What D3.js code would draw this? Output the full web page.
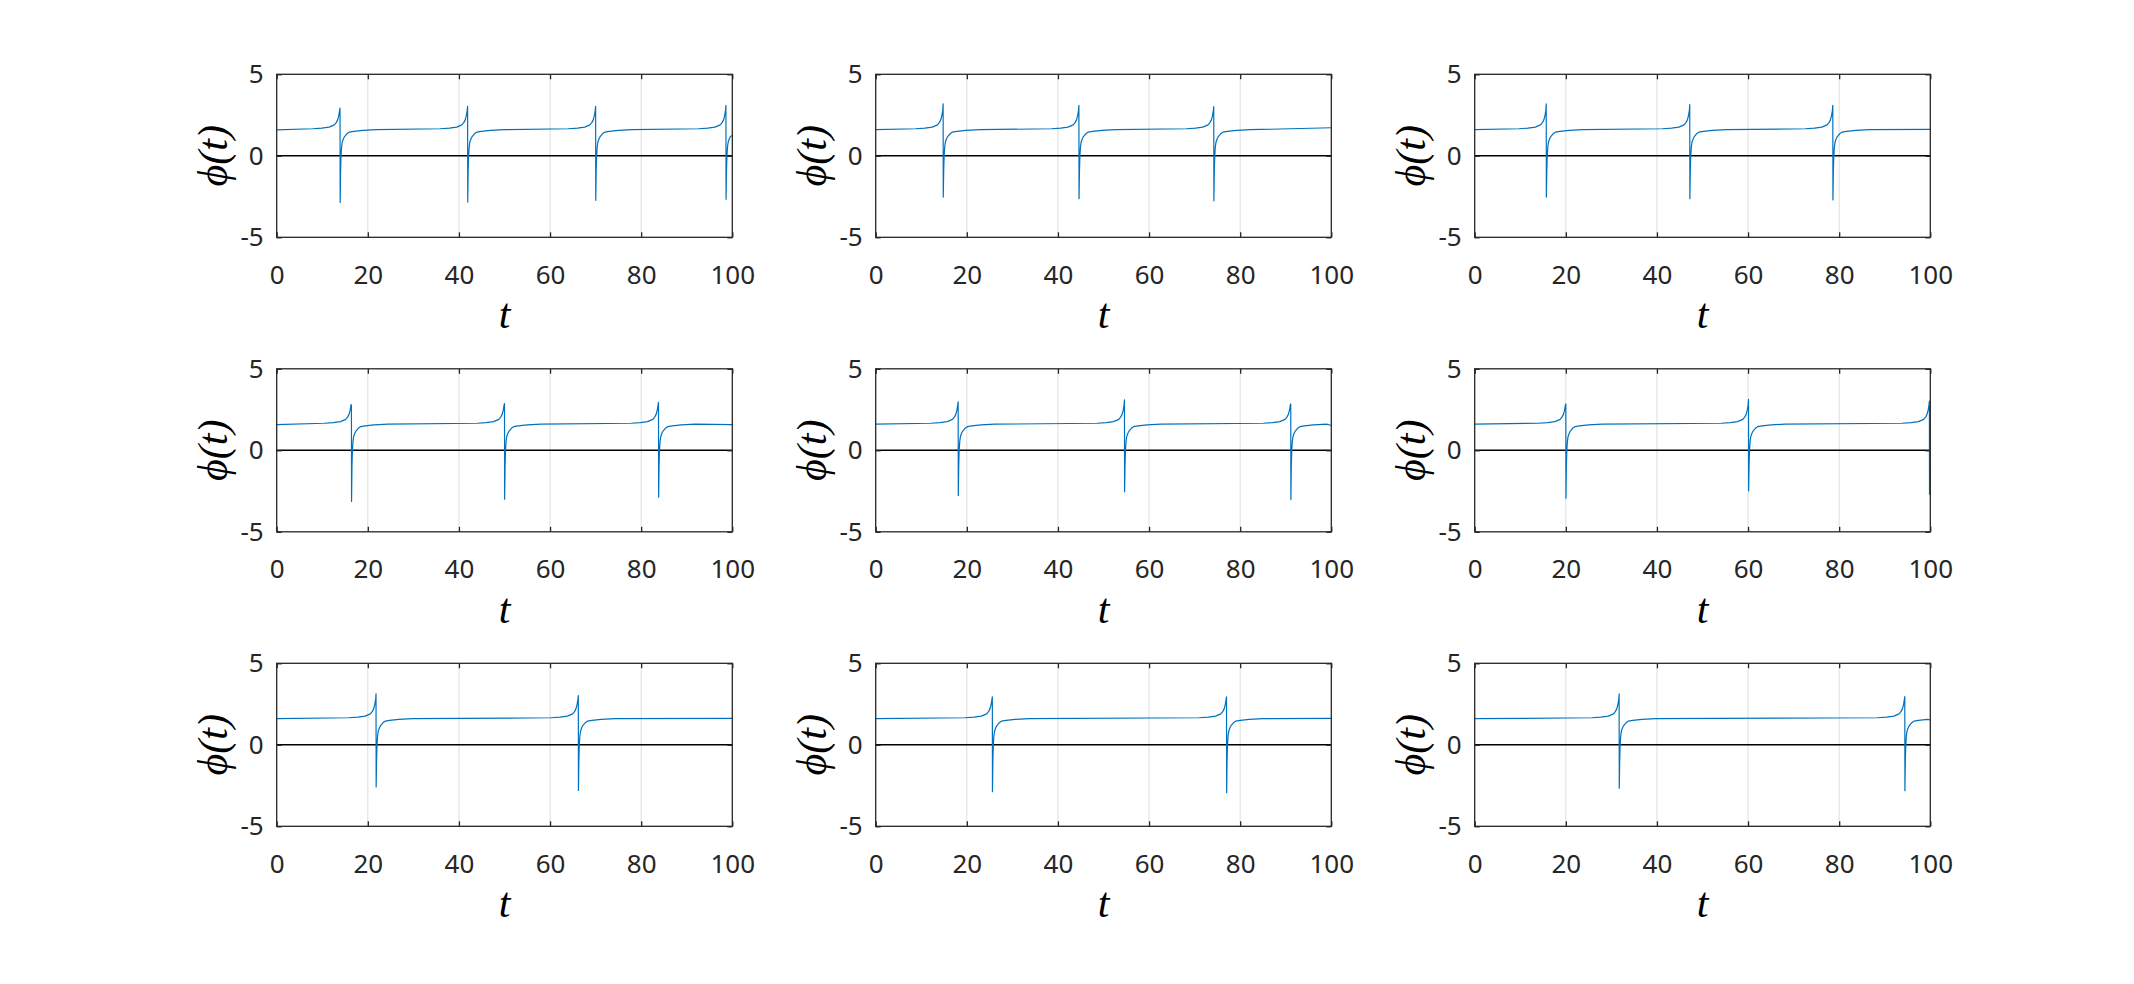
<!DOCTYPE html>
<html>
	<head>
		<meta charset="utf-8">
		<title>phi(t) slips, 3x3 subplots</title>
		<script src="https://d3js.org/d3.v7.min.js"></script>
		<style>
			body { margin: 0; background: #fff; }
		</style>
	</head>
	<body>
		<script>

			// Figure size
			var W = 2134;
			var H = 984;

			// Subplot grid (px)
			var colLeft = [276.7, 875.7, 1474.7];
			var rowTop = [74.3, 368.8, 663.3];
			var axW = 455.6;
			var axH = 163;

			// Axis ticks
			var xTicks = [0, 20, 40, 60, 80, 100];
			var yTicks = [-5, 0, 5];

			// Phase slip instants for each panel (row by row), peak just before and trough just after
			var slipTimes = [
				[13.9, 41.9, 70.0, 98.6],
				[14.8, 44.6, 74.2],
				[15.7, 47.2, 78.6],
				[16.4, 50.0, 83.8],
				[18.1, 54.6, 91.1],
				[20.0, 60.1, 99.8],
				[21.8, 66.2],
				[25.6, 77.0],
				[31.7, 94.4]
			];
			var slipPeaks = [
				[2.92, 3.04, 3.04, 3.10],
				[3.18, 3.10, 3.02],
				[3.18, 3.14, 3.10],
				[2.78, 2.86, 2.94],
				[2.98, 3.10, 2.84],
				[2.84, 3.12, 3.02],
				[3.12, 3.02],
				[2.94, 2.94],
				[3.12, 2.96]
			];
			var slipTroughs = [
				[-2.86, -2.84, -2.73, -2.67],
				[-2.53, -2.63, -2.76],
				[-2.53, -2.63, -2.71],
				[-3.14, -3.00, -2.88],
				[-2.78, -2.55, -3.02],
				[-2.94, -2.49, -2.70],
				[-2.59, -2.80],
				[-2.88, -2.94],
				[-2.67, -2.82]
			];
			var startPhi = [1.59, 1.6, 1.6, 1.58, 1.6, 1.6, 1.6, 1.6, 1.6];
			var endPhi = [1.24, 1.72, 1.62, 1.57, 1.52, -1.6, 1.62, 1.62, 1.52];

			// Shape of one slip, read from a zoomed slip (offset in t from the peak)
			var preOffsets = [-6, -4, -2.4, -1.25, -0.8, -0.5, -0.25, -0.08];
			var preShape = [1.66, 1.70, 1.76, 1.90, 2.05, 2.22, 2.50, 2.80];
			var troughOffset = 0.03;
			var postOffsets = [0.12, 0.22, 0.35, 0.5, 0.75, 1.0, 1.5, 2.0, 3.0, 5.0, 8.0];
			var postShape = [-1.0, 0.0, 0.55, 0.85, 1.05, 1.18, 1.35, 1.45, 1.50, 1.56, 1.60];

			var fontTick = "'Noto Sans', 'DejaVu Sans', sans-serif";
			var fontMath = "'Liberation Serif', 'DejaVu Serif', serif";

			var xScale = d3.scaleLinear().domain([0, 100]).range([0, axW]);
			var yScale = d3.scaleLinear().domain([-5, 5]).range([axH, 0]);

			var svg = d3.select("body")
						.append("svg")
						.attr("width", W)
						.attr("height", H);

			svg.append("rect").attr("width", W).attr("height", H).attr("fill", "white");

			function panelPoints(p) {
				var pts = [[0, startPhi[p]]];
				slipTimes[p].forEach(function(ts, i) {
					preOffsets.forEach(function(o, j) { pts.push([ts + o, preShape[j]]); });
					pts.push([ts, slipPeaks[p][i]]);
					pts.push([ts + troughOffset, slipTroughs[p][i]]);
					postOffsets.forEach(function(o, j) { pts.push([ts + o, postShape[j]]); });
				});
				pts = pts.filter(function(d) { return d[0] <= 100; });
				if (pts[pts.length - 1][0] < 100) pts.push([100, endPhi[p]]);
				return pts;
			}

			var line = d3.line()
						.x(function(d) { return xScale(d[0]); })
						.y(function(d) { return yScale(d[1]); });

			function drawPanel(p) {
				var r = Math.floor(p / 3), c = p % 3;
				var g = svg.append("g")
						.attr("transform", "translate(" + colLeft[c] + "," + rowTop[r] + ")");

				// x grid
				g.selectAll(".grid")
					.data(xTicks.slice(1, -1))
					.enter()
					.append("line")
					.attr("x1", function(d) { return xScale(d); })
					.attr("x2", function(d) { return xScale(d); })
					.attr("y1", 0)
					.attr("y2", axH)
					.attr("stroke", "#dedede")
					.attr("stroke-width", 1);

				// zero line
				g.append("line")
					.attr("x1", xScale(0))
					.attr("x2", xScale(100))
					.attr("y1", yScale(0))
					.attr("y2", yScale(0))
					.attr("stroke", "#000")
					.attr("stroke-width", 1.5);

				// phi(t)
				g.append("path")
					.datum(panelPoints(p))
					.attr("d", line)
					.attr("fill", "none")
					.attr("stroke", "#0072BD")
					.attr("stroke-width", 1.2)
					.attr("stroke-linejoin", "round");

				// axes (ticks inward, box on)
				var axB = g.append("g")
					.attr("transform", "translate(0," + axH + ")")
					.call(d3.axisBottom(xScale).tickValues(xTicks).tickSizeInner(-5).tickSizeOuter(0)
						.tickPadding(28).tickFormat(function(d) { return String(d); }));
				var axT = g.append("g")
					.call(d3.axisTop(xScale).tickValues(xTicks).tickSizeInner(-5).tickSizeOuter(0)
						.tickFormat(""));
				var axL = g.append("g")
					.call(d3.axisLeft(yScale).tickValues(yTicks).tickSizeInner(-5).tickSizeOuter(0)
						.tickPadding(13).tickFormat(function(d) { return String(d); }));
				var axR = g.append("g")
					.attr("transform", "translate(" + axW + ",0)")
					.call(d3.axisRight(yScale).tickValues(yTicks).tickSizeInner(-5).tickSizeOuter(0)
						.tickFormat(""));

				[axB, axT, axL, axR].forEach(function(a) {
					a.select(".domain").remove();
					a.selectAll(".tick line").attr("stroke", "#262626").attr("stroke-width", 1.3);
					a.selectAll("text")
						.attr("font-family", fontTick)
						.attr("font-size", "26px")
						.attr("fill", "#262626");
				});

				g.append("rect")
					.attr("width", axW)
					.attr("height", axH)
					.attr("fill", "none")
					.attr("stroke", "#262626")
					.attr("stroke-width", 1.3);

				// labels
				g.append("text")
					.attr("x", axW / 2)
					.attr("y", axH + 91)
					.attr("text-anchor", "middle")
					.attr("font-family", fontMath)
					.attr("font-style", "italic")
					.attr("font-size", "42px")
					.attr("fill", "#000")
					.text("t");

				g.append("text")
					.attr("transform", "translate(-50," + (axH / 2) + ") rotate(-90)")
					.attr("text-anchor", "middle")
					.attr("font-family", fontMath)
					.attr("font-style", "italic")
					.attr("font-size", "42px")
					.attr("fill", "#000")
					.text("\u03D5(t)");
			}

			for (var p = 0; p < 9; p++) drawPanel(p);

		</script>
	</body>
</html>
